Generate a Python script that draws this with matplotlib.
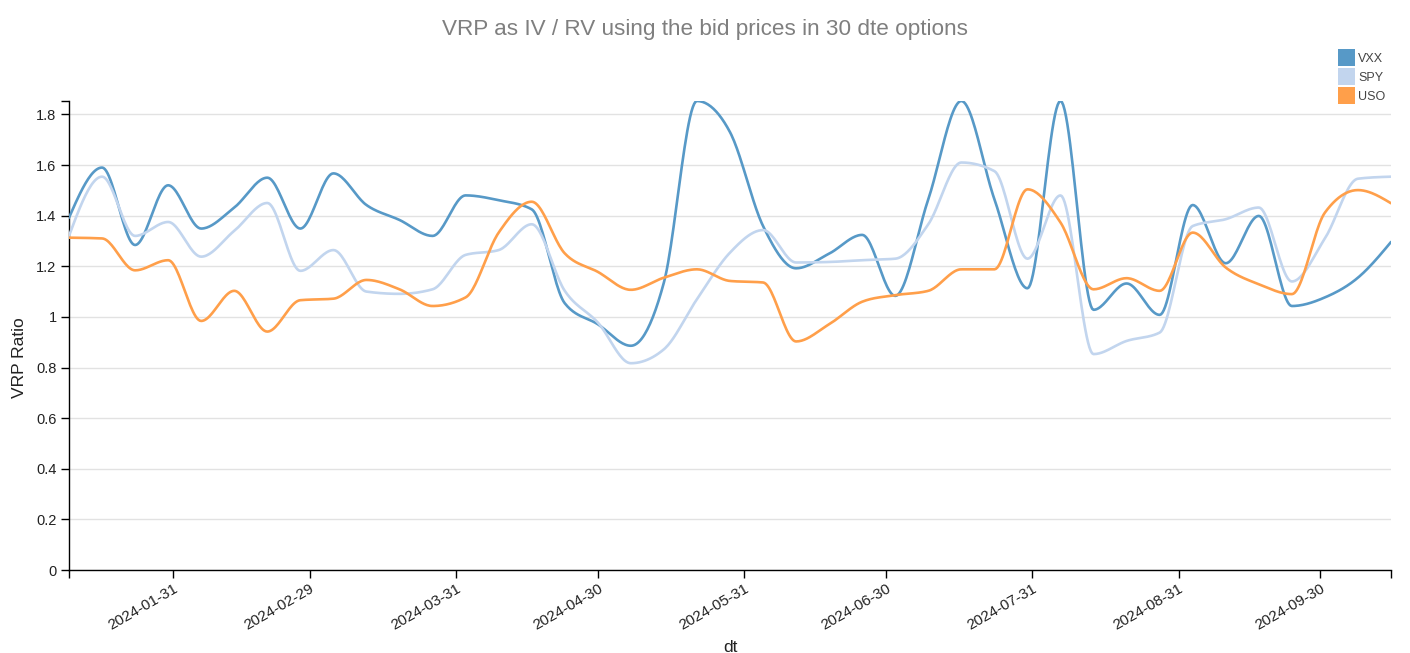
import numpy as np
import pandas as pd
import matplotlib
matplotlib.use("Agg")
import matplotlib.pyplot as plt
import matplotlib.dates as mdates
from matplotlib.patches import Patch
from matplotlib.ticker import FuncFormatter

plt.rcParams['font.family'] = ['Liberation Sans', 'DejaVu Sans']

# ---------------- data ----------------
dates = pd.date_range('2024-01-09', periods=41, freq='7D')

vxx = [1.392, 1.59, 1.284, 1.52, 1.349, 1.432, 1.55, 1.349, 1.567, 1.442,
       1.383, 1.32, 1.48, 1.461, 1.425, 1.054, 0.971, 0.886, 1.136, 1.853,
       1.73, 1.359, 1.192, 1.25, 1.324, 1.083, 1.465, 1.853, 1.465, 1.113,
       1.853, 1.028, 1.132, 1.008, 1.442, 1.212, 1.399, 1.043, 1.077, 1.155,
       1.296]
spy = [1.32, 1.554, 1.32, 1.375, 1.238, 1.34, 1.45, 1.182, 1.264, 1.10,
       1.091, 1.109, 1.245, 1.264, 1.366, 1.103, 0.978, 0.817, 0.872, 1.07,
       1.254, 1.343, 1.215, 1.217, 1.224, 1.23, 1.366, 1.61, 1.576, 1.23,
       1.48, 0.853, 0.905, 0.938, 1.359, 1.386, 1.432, 1.14, 1.31, 1.546,
       1.554]
uso = [1.313, 1.31, 1.184, 1.224, 0.984, 1.103, 0.942, 1.066, 1.072, 1.146,
       1.109, 1.043, 1.077, 1.333, 1.455, 1.251, 1.178, 1.107, 1.155, 1.188,
       1.142, 1.136, 0.903, 0.971, 1.06, 1.086, 1.103, 1.188, 1.188, 1.504,
       1.373, 1.109, 1.153, 1.103, 1.333, 1.195, 1.129, 1.09, 1.412, 1.501,
       1.449]

series_names = ['VXX', 'SPY', 'USO']
series_values = [vxx, spy, uso]
series_colors = ['#5799c7', '#c2d5ee', '#ff9f4a']

title = 'VRP as IV / RV using the bid prices in 30 dte options'
y_label = 'VRP Ratio'
x_label = 'dt'
month_ticks = pd.date_range('2024-01-31', '2024-09-30', freq='ME')


# ------------- monotone-x curve rendering (like d3.curveMonotoneX) -------------
def monotone_curve(x, y, steps=24):
    x = np.asarray(x, float)
    y = np.asarray(y, float)
    n = len(x)
    h = np.diff(x)
    s = np.diff(y) / h
    t = np.zeros(n)
    sgn = lambda v: -1.0 if v < 0 else 1.0
    for i in range(1, n - 1):
        p = (s[i - 1] * h[i] + s[i] * h[i - 1]) / (h[i - 1] + h[i])
        t[i] = (sgn(s[i - 1]) + sgn(s[i])) * min(abs(s[i - 1]), abs(s[i]), 0.5 * abs(p))
    t[0] = (3 * s[0] - t[1]) / 2
    t[-1] = (3 * s[-1] - t[-2]) / 2
    xs, ys = [], []
    u = np.linspace(0, 1, steps, endpoint=False)
    for i in range(n - 1):
        dx = h[i] / 3
        P0 = (x[i], y[i])
        P1 = (x[i] + dx, y[i] + dx * t[i])
        P2 = (x[i + 1] - dx, y[i + 1] - dx * t[i + 1])
        P3 = (x[i + 1], y[i + 1])
        b0 = (1 - u) ** 3
        b1 = 3 * (1 - u) ** 2 * u
        b2 = 3 * (1 - u) * u ** 2
        b3 = u ** 3
        xs.append(b0 * P0[0] + b1 * P1[0] + b2 * P2[0] + b3 * P3[0])
        ys.append(b0 * P0[1] + b1 * P1[1] + b2 * P2[1] + b3 * P3[1])
    xs.append([x[-1]])
    ys.append([y[-1]])
    return np.concatenate(xs), np.concatenate(ys)


# ---------------- figure ----------------
W, H = 1410, 653
fig = plt.figure(figsize=(W / 100, H / 100), dpi=100)
L, R, T, B = 69, 1391, 101, 570
ax = fig.add_axes([L / W, 1 - B / H, (R - L) / W, (B - T) / H])

xnum = mdates.date2num(dates)
for name, vals, col in zip(series_names, series_values, series_colors):
    cx, cy = monotone_curve(xnum, vals)
    ax.plot(cx, cy, color=col, lw=1.9, solid_capstyle='round', zorder=3)

ax.set_xlim(xnum[0], xnum[-1])
ax.set_ylim(0, 1.853)

# grid
ax.set_yticks(np.arange(0, 1.81, 0.2))
ax.yaxis.set_major_formatter(FuncFormatter(lambda v, _: f'{round(v, 1):g}'))
ax.grid(axis='y', color='#e2e2e2', lw=1, zorder=0)
ax.grid(axis='x', visible=False)

ax.set_xticks(mdates.date2num(month_ticks))
ax.set_xticklabels([d.strftime('%Y-%m-%d') for d in month_ticks])
ax.set_xticks([xnum[0], xnum[-1]], minor=True)
ax.set_yticks([1.853], minor=True)

for sp in ['top', 'right']:
    ax.spines[sp].set_visible(False)
for sp in ['left', 'bottom']:
    ax.spines[sp].set_color('#000000')
    ax.spines[sp].set_linewidth(1.0)

ax.tick_params(which='both', length=6, width=1, color='#000000',
               labelcolor='#222222', pad=3)
ax.tick_params(axis='y', labelsize=10.5)
ax.tick_params(axis='x', which='major', labelsize=11, pad=2)
for lab in ax.get_xticklabels():
    lab.set_rotation(30)
    lab.set_ha('right')
    lab.set_va('top')
    lab.set_rotation_mode('anchor')

# titles / labels
fig.text(705 / W, 1 - 30 / H, title, ha='center', va='center',
         fontsize=16.2, color='#7f7f7f')
fig.text(20 / W, 1 - 358 / H, y_label, rotation=90, ha='center', va='center',
         fontsize=12.5, color='#222222')
fig.text(730 / W, 1 - 647 / H, x_label, ha='center', va='center',
         fontsize=12.5, color='#222222')

# legend
handles = [Patch(facecolor=c, edgecolor='none') for c in series_colors]
fig.legend(handles, series_names, loc='upper left',
           bbox_to_anchor=(1338 / W, 1 - 49 / H), frameon=False,
           fontsize=9, handlelength=1.36, handleheight=1.72,
           handletextpad=0.25, labelspacing=0.16, borderpad=0,
           borderaxespad=0, labelcolor='#444444')

fig.savefig('out.png', dpi=100)
